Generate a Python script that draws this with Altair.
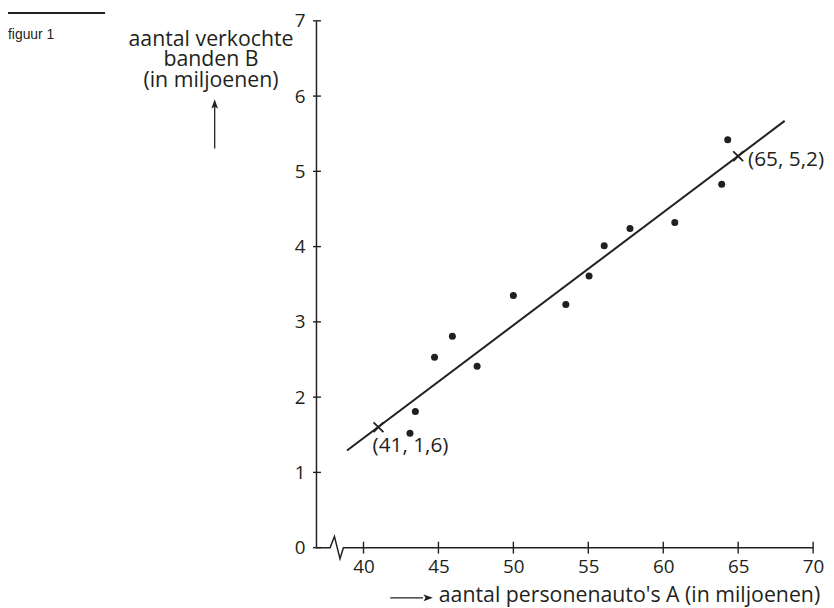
import altair as alt
import pandas as pd

# ---- data ----
cars_A = [43.1, 43.46, 44.74, 45.93, 47.58, 50.0, 53.5, 55.05, 56.06, 57.78, 60.77, 63.9, 64.3]
tyres_B = [1.52, 1.81, 2.53, 2.81, 2.41, 3.35, 3.23, 3.61, 4.01, 4.24, 4.32, 4.83, 5.42]
fit_A = [38.9, 68.1]
fit_B = [1.29, 5.67]
marked_A = [41, 65]
marked_B = [1.6, 5.2]
marked_labels = ["(41, 1,6)", "(65, 5,2)"]
x_ticks = [40, 45, 50, 55, 60, 65, 70]
y_ticks = [0, 1, 2, 3, 4, 5, 6, 7]
x_domain = [36.83, 70]
y_domain = [0, 7]
axis_break_A = [36.83, 37.77, 38.06, 38.43, 38.66, 70]
axis_break_B = [0, 0, 0.149, -0.146, 0, 0]
y_title_lines = ["aantal verkochte", "banden B", "(in miljoenen)"]
x_title = "aantal personenauto's A (in miljoenen)"
figure_label = "figuur 1"

INK = "#231f20"
FONT = "Open Sans"
W, H = 502, 532

xs = alt.Scale(domain=x_domain, nice=False, zero=False)
ys = alt.Scale(domain=y_domain, nice=False, zero=False)

x_axis = alt.Axis(values=x_ticks, domain=False, ticks=False, tickSize=0, grid=False,
                  labelPadding=10, labelFontSize=19, labelFont=FONT, labelColor=INK,
                  labelFlush=False, title=None)
y_axis = alt.Axis(values=y_ticks, domain=True, domainColor=INK, domainWidth=1.5,
                  ticks=False, tickSize=0, grid=False, labelPadding=11,
                  labelFontSize=19, labelFont=FONT, labelColor=INK, title=None)


def X(field):
    return alt.X(field, scale=xs, axis=x_axis, title=None)


def Y(field):
    return alt.Y(field, scale=ys, axis=y_axis, title=None)


pts = pd.DataFrame({"A": cars_A, "B": tyres_B})
fit = pd.DataFrame({"A": fit_A, "B": fit_B})
marked = pd.DataFrame({"A": marked_A, "B": marked_B, "label": marked_labels})
brk = pd.DataFrame({"A": axis_break_A, "B": axis_break_B, "i": list(range(len(axis_break_A)))})
xt = pd.DataFrame({"A": x_ticks})
yt = pd.DataFrame({"B": y_ticks})
one = pd.DataFrame({"k": [0]})

points = alt.Chart(pts).mark_circle(size=50, color=INK, opacity=1).encode(
    x=X("A:Q"), y=Y("B:Q"))

fit_line = alt.Chart(fit).mark_line(color=INK, strokeWidth=2).encode(
    x=X("A:Q"), y=Y("B:Q"))

crosses = alt.Chart(marked).mark_point(
    shape="M-1,-1L1,1M1,-1L-1,1", size=100, filled=False, color=INK,
    strokeWidth=1.8, opacity=1).encode(x=X("A:Q"), y=Y("B:Q"))

lab1 = alt.Chart(marked).transform_filter(alt.datum.label == marked_labels[0]).mark_text(
    align="left", baseline="middle", dx=-6, dy=19, font=FONT, fontSize=21, color=INK).encode(
    x=X("A:Q"), y=Y("B:Q"), text="label:N")
lab2 = alt.Chart(marked).transform_filter(alt.datum.label == marked_labels[1]).mark_text(
    align="left", baseline="middle", dx=10, dy=4, font=FONT, fontSize=21, color=INK).encode(
    x=X("A:Q"), y=Y("B:Q"), text="label:N")

x_axis_line = alt.Chart(brk).mark_line(color=INK, strokeWidth=1.5).encode(
    x=X("A:Q"), y=Y("B:Q"), order="i:O")

x_tick_marks = alt.Chart(xt).mark_tick(orient="vertical", size=12, thickness=1.4, color=INK, opacity=1).encode(
    x=X("A:Q"), y=alt.value(H))
y_tick_marks = alt.Chart(yt).mark_tick(orient="horizontal", size=8, thickness=1.4, color=INK, opacity=1).encode(
    y=Y("B:Q"), x=alt.value(1))

y_title = alt.Chart(one).mark_text(
    align="center", baseline="alphabetic", font=FONT, fontSize=21.5, lineHeight=21, color=INK).encode(
    x=alt.value(-106), y=alt.value(25), text=alt.value(y_title_lines))
up_line = alt.Chart(one).mark_rule(color=INK, strokeWidth=1.3).encode(
    x=alt.value(-102.3), y=alt.value(129), y2=alt.value(86))
up_head = alt.Chart(one).mark_point(
    shape="M0,-1L0.6,0.7L0,0.35L-0.6,0.7Z", size=121, filled=True, color=INK, opacity=1).encode(
    x=alt.value(-102.3), y=alt.value(84.8))

x_title_mark = alt.Chart(one).mark_text(
    align="left", baseline="alphabetic", font=FONT, fontSize=21.5, color=INK).encode(
    x=alt.value(124), y=alt.value(587), text=alt.value(x_title))
right_line = alt.Chart(one).mark_rule(color=INK, strokeWidth=1.3).encode(
    x=alt.value(75), x2=alt.value(108), y=alt.value(582.7))
right_head = alt.Chart(one).mark_point(
    shape="M1,0L-0.7,0.6L-0.35,0L-0.7,-0.6Z", size=121, filled=True, color=INK, opacity=1).encode(
    x=alt.value(112.5), y=alt.value(582.7))

fig_rule = alt.Chart(one).mark_rule(color=INK, strokeWidth=2).encode(
    x=alt.value(-312), x2=alt.value(-213), y=alt.value(-8))
fig_text = alt.Chart(one).mark_text(
    align="left", baseline="alphabetic", font="Liberation Sans", fontSize=14, color=INK).encode(
    x=alt.value(-311), y=alt.value(18), text=alt.value(figure_label))

chart = alt.layer(
    points, x_axis_line, x_tick_marks, y_tick_marks, fit_line, crosses, lab1, lab2,
    y_title, up_line, up_head, x_title_mark, right_line, right_head, fig_rule, fig_text,
).properties(
    width=W, height=H,
    padding={"left": 311, "top": 10, "right": 13, "bottom": 58},
    autosize=alt.AutoSizeParams(type="none"),
).configure_view(stroke=None)

chart.save("out.html", embed_options={"renderer": "svg", "actions": False})
